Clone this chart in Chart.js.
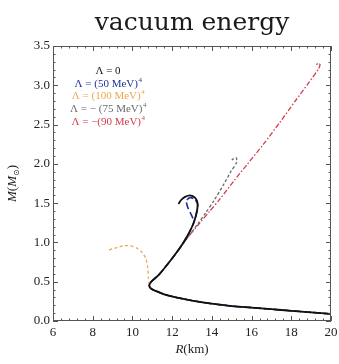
<!DOCTYPE html>
<html lang="en">
<head>
<meta charset="UTF-8">
<title>vacuum energy</title>
<script src="https://cdn.jsdelivr.net/npm/chart.js"></script>
<style>
  html, body { margin: 0; padding: 0; background: #fff; }
</style>
</head>
<body>
<canvas id="mr" width="339" height="364"></canvas>
<script>
// mass-radius curves, R in km, M in solar masses
const rLambda0 = [20, 19, 18, 17, 16, 15, 14, 13, 12.2, 11.6, 11.2, 10.95, 10.85, 10.95, 11.3, 11.7, 12.1, 12.5, 12.85, 13.1, 13.25, 13.28, 13.15, 12.9, 12.65, 12.45, 12.32];
const mLambda0 = [0.09, 0.11, 0.13, 0.15, 0.17, 0.19, 0.22, 0.26, 0.3, 0.34, 0.38, 0.41, 0.45, 0.5, 0.58, 0.7, 0.83, 0.97, 1.12, 1.26, 1.4, 1.5, 1.57, 1.6, 1.58, 1.54, 1.49];

const rPlus50 = [20, 19, 18, 17, 16, 15, 14, 13, 12.2, 11.6, 11.2, 10.95, 10.85, 10.95, 11.3, 11.7, 12.1, 12.5, 12.85, 13.1, 13.25, 13.28, 13.12, 12.9, 12.72, 12.78, 12.95, 13.1];
const mPlus50 = [0.09, 0.11, 0.13, 0.15, 0.17, 0.19, 0.22, 0.26, 0.3, 0.34, 0.38, 0.41, 0.45, 0.5, 0.58, 0.7, 0.83, 0.97, 1.12, 1.26, 1.4, 1.49, 1.55, 1.57, 1.53, 1.45, 1.36, 1.28];

const rPlus100 = [20, 19, 18, 17, 16, 15, 14, 13, 12.2, 11.6, 11.2, 10.95, 10.85, 10.8, 10.77, 10.68, 10.5, 10.2, 9.9, 9.6, 9.3, 9.0, 8.8];
const mPlus100 = [0.09, 0.11, 0.13, 0.15, 0.17, 0.19, 0.22, 0.26, 0.3, 0.34, 0.38, 0.41, 0.45, 0.55, 0.68, 0.79, 0.87, 0.93, 0.955, 0.96, 0.94, 0.92, 0.9];

const rMinus75 = [20, 19, 18, 17, 16, 15, 14, 13, 12.2, 11.6, 11.2, 10.95, 10.85, 10.95, 11.3, 11.7, 12.1, 12.5, 12.9, 13.3, 13.7, 14.1, 14.6, 14.95, 15.25, 15.22, 15.0];
const mMinus75 = [0.09, 0.11, 0.13, 0.15, 0.17, 0.19, 0.22, 0.26, 0.3, 0.34, 0.38, 0.41, 0.45, 0.5, 0.58, 0.7, 0.83, 0.97, 1.1, 1.24, 1.38, 1.53, 1.74, 1.9, 2.02, 2.08, 2.05];

const rMinus90 = [20, 19, 18, 17, 16, 15, 14, 13, 12.2, 11.6, 11.2, 10.95, 10.85, 10.95, 11.3, 11.7, 12.1, 12.5, 12.9, 13.4, 13.9, 14.4, 15.1, 15.8, 16.6, 17.4, 18.2, 18.9, 19.35, 19.45, 19.35, 19.2];
const mMinus90 = [0.09, 0.11, 0.13, 0.15, 0.17, 0.19, 0.22, 0.26, 0.3, 0.34, 0.38, 0.41, 0.45, 0.5, 0.58, 0.7, 0.83, 0.97, 1.1, 1.25, 1.4, 1.55, 1.78, 2.0, 2.25, 2.52, 2.8, 3.04, 3.2, 3.26, 3.28, 3.24];

const legendTexts = ['Λ = 0', 'Λ = (50 MeV)', 'Λ = (100 MeV)', 'Λ = − (75 MeV)', 'Λ = −(90 MeV)'];
const legendPowers = ['', '4', '4', '4', '4'];
const lineColors = ['#111111', '#22309a', '#eaa94e', '#6a6a6a', '#d43c4c'];

function pts(rs, ms) {
    return rs.map((r, i) => ({ x: r, y: ms[i] }));
}

function curve(label, rs, ms, color, width, dash) {
    return {
        label: label,
        data: pts(rs, ms),
        showLine: true,
        borderColor: color,
        borderWidth: width,
        borderDash: dash,
        pointRadius: 0,
        tension: 0.25,
        fill: false
    };
}

// frame with inward major/minor ticks, legend text and axis labels
const decorations = {
    id: 'decorations',
    afterDraw(chart) {
        const ctx = chart.ctx;
        const a = chart.chartArea;
        const xs = chart.scales.x, ys = chart.scales.y;
        ctx.save();
        ctx.strokeStyle = '#555';
        ctx.lineWidth = 1;
        ctx.strokeRect(a.left + 0.5, a.top + 0.5, a.right - a.left - 1, a.bottom - a.top - 1);
        ctx.beginPath();
        for (let v = 6; v <= 20.001; v += 0.4) {
            const px = Math.round(xs.getPixelForValue(v)) + 0.5;
            const major = Math.abs(v / 2 - Math.round(v / 2)) < 0.01;
            const len = major ? 5 : 2.5;
            ctx.moveTo(px, a.bottom); ctx.lineTo(px, a.bottom - len);
            ctx.moveTo(px, a.top); ctx.lineTo(px, a.top + len);
        }
        for (let v = 0; v <= 3.501; v += 0.1) {
            const py = Math.round(ys.getPixelForValue(v)) + 0.5;
            const major = Math.abs(v * 2 - Math.round(v * 2)) < 0.01;
            const len = major ? 5 : 2.5;
            ctx.moveTo(a.left, py); ctx.lineTo(a.left + len, py);
            ctx.moveTo(a.right, py); ctx.lineTo(a.right - len, py);
        }
        ctx.stroke();

        // legend
        ctx.textBaseline = 'middle';
        legendTexts.forEach((t, i) => {
            const y = 71 + i * 12.7;
            ctx.font = '11px "Liberation Serif"';
            const w = ctx.measureText(t).width;
            ctx.font = '7px "Liberation Serif"';
            const wp = legendPowers[i] ? ctx.measureText(legendPowers[i]).width : 0;
            const x0 = 108 - (w + wp) / 2;
            ctx.fillStyle = lineColors[i];
            ctx.font = '11px "Liberation Serif"';
            ctx.textAlign = 'left';
            ctx.fillText(t, x0, y);
            if (legendPowers[i]) {
                ctx.font = '7px "Liberation Serif"';
                ctx.fillText(legendPowers[i], x0 + w + 0.5, y - 4);
            }
        });

        // x axis label R(km)
        ctx.fillStyle = '#222';
        ctx.textAlign = 'left';
        ctx.font = 'italic 13px "Liberation Serif"';
        const wr = ctx.measureText('R').width;
        ctx.font = '13px "Liberation Serif"';
        const wk = ctx.measureText('(km)').width;
        const cx = (a.left + a.right) / 2;
        let x = cx - (wr + wk) / 2;
        ctx.font = 'italic 13px "Liberation Serif"';
        ctx.fillText('R', x, 350);
        ctx.font = '13px "Liberation Serif"';
        ctx.fillText('(km)', x + wr, 350);

        // y axis label M(M_sun)
        ctx.translate(13, (a.top + a.bottom) / 2);
        ctx.rotate(-Math.PI / 2);
        const parts = [
            { t: 'M', f: 'italic 13px "Liberation Serif"', dy: 0 },
            { t: '(', f: '13px "Liberation Serif"', dy: 0 },
            { t: 'M', f: 'italic 13px "Liberation Serif"', dy: 0 },
            { t: '⊙', f: '8px "DejaVu Sans"', dy: 4 },
            { t: ')', f: '13px "Liberation Serif"', dy: 0 }
        ];
        let total = 0;
        parts.forEach(p => { ctx.font = p.f; p.w = ctx.measureText(p.t).width; total += p.w; });
        x = -total / 2;
        parts.forEach(p => { ctx.font = p.f; ctx.fillText(p.t, x, p.dy); x += p.w; });
        ctx.restore();
    }
};

const ctx = document.getElementById('mr').getContext('2d');
new Chart(ctx, {
    type: 'scatter',
    data: {
        datasets: [
            curve('Λ = 0', rLambda0, mLambda0, lineColors[0], 1.8, []),
            curve('Λ = (50 MeV)^4', rPlus50, mPlus50, lineColors[1], 1.6, [7, 3]),
            curve('Λ = (100 MeV)^4', rPlus100, mPlus100, lineColors[2], 1.3, [3, 2.5]),
            curve('Λ = −(75 MeV)^4', rMinus75, mMinus75, lineColors[3], 1.3, [3, 2]),
            curve('Λ = −(90 MeV)^4', rMinus90, mMinus90, lineColors[4], 1.3, [5, 2, 1.5, 2])
        ]
    },
    options: {
        responsive: false,
        animation: false,
        layout: { padding: { left: 0, right: 8, top: 0, bottom: 0 } },
        plugins: {
            legend: { display: false },
            tooltip: { enabled: false },
            title: {
                display: true,
                text: 'vacuum energy',
                fullSize: false,
                color: '#1a1a1a',
                font: { family: '"DejaVu Serif"', size: 25, weight: 'normal', lineHeight: 1.2 },
                padding: { top: 8, bottom: 8 }
            }
        },
        scales: {
            x: {
                type: 'linear',
                min: 6,
                max: 20,
                afterFit(scale) { scale.height = 43; scale.paddingRight = 0; scale.paddingLeft = 0; },
                grid: { display: false, drawTicks: false },
                border: { display: false },
                ticks: {
                    stepSize: 2,
                    padding: 4,
                    color: '#222',
                    font: { family: '"Liberation Serif"', size: 13 }
                }
            },
            y: {
                type: 'linear',
                min: 0,
                max: 3.5,
                afterFit(scale) { scale.width = 53; },
                grid: { display: false, drawTicks: false },
                border: { display: false },
                ticks: {
                    stepSize: 0.5,
                    padding: 3,
                    color: '#222',
                    font: { family: '"Liberation Serif"', size: 13 },
                    callback: v => v.toFixed(1)
                }
            }
        }
    },
    plugins: [decorations]
});
</script>
</body>
</html>
